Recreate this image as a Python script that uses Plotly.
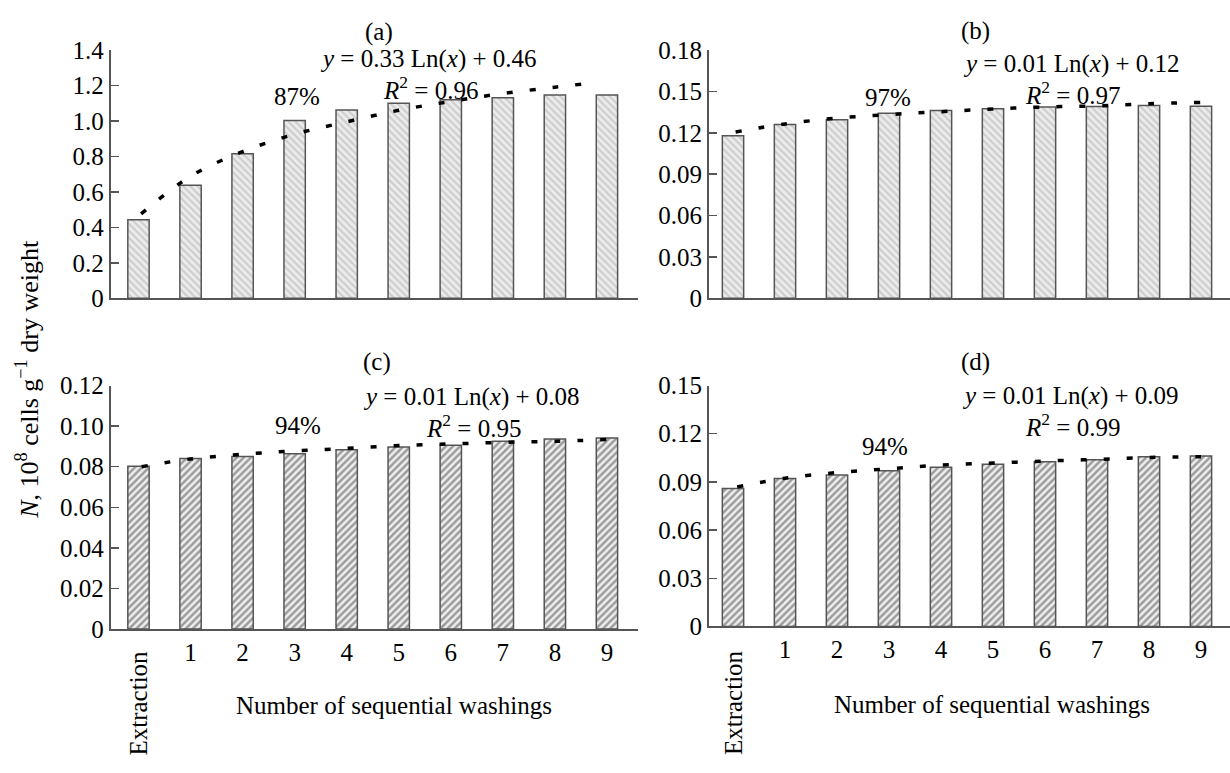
import plotly.graph_objects as go

W, H = 1230, 773

# ---------------- data ----------------
categories = ["Extraction", "1", "2", "3", "4", "5", "6", "7", "8", "9"]
cat_idx = list(range(len(categories)))

vals_a = [0.443, 0.637, 0.815, 1.003, 1.062, 1.099, 1.119, 1.13, 1.146, 1.146]
vals_b = [0.1178, 0.126, 0.1295, 0.1342, 0.1362, 0.1374, 0.1386, 0.1391, 0.1398, 0.1393]
vals_c = [0.0802, 0.084, 0.085, 0.0864, 0.0883, 0.0897, 0.0906, 0.0925, 0.0936, 0.0941]
vals_d = [0.0859, 0.0922, 0.0943, 0.097, 0.0991, 0.101, 0.1026, 0.1038, 0.1056, 0.1062]

# trend lines
trend_x_a = [0.05, 1, 2, 3, 4, 5, 6, 7, 8, 8.77]
trend_a = [0.476, 0.688, 0.827, 0.925, 0.995, 1.06, 1.11, 1.155, 1.19, 1.216]
trend_x_b = [0.05, 1, 2, 3, 4, 5, 6, 7, 8, 9]
trend_b = [0.1206, 0.1264, 0.1306, 0.1332, 0.1353, 0.1372, 0.1387, 0.1394, 0.141, 0.142]
trend_x_c = [0.06, 1, 2, 3, 4, 5, 6, 7, 8, 9.03]
trend_c = [0.0800, 0.0838, 0.0861, 0.0878, 0.089, 0.0904, 0.0912, 0.092, 0.0925, 0.0934]
trend_x_d = [0.08, 1, 2, 3, 4, 5, 6, 7, 8, 9]
trend_d = [0.0869, 0.0923, 0.0958, 0.0982, 0.1005, 0.1017, 0.103, 0.104, 0.1052, 0.1057]

yticks_a = [0, 0.2, 0.4, 0.6, 0.8, 1.0, 1.2, 1.4]
yticktext_a = ["0", "0.2", "0.4", "0.6", "0.8", "1.0", "1.2", "1.4"]
yticks_b = [0, 0.03, 0.06, 0.09, 0.12, 0.15, 0.18]
yticktext_b = ["0", "0.03", "0.06", "0.09", "0.12", "0.15", "0.18"]
yticks_c = [0, 0.02, 0.04, 0.06, 0.08, 0.10, 0.12]
yticktext_c = ["0", "0.02", "0.04", "0.06", "0.08", "0.10", "0.12"]
yticks_d = [0, 0.03, 0.06, 0.09, 0.12, 0.15]
yticktext_d = ["0", "0.03", "0.06", "0.09", "0.12", "0.15"]

panel_labels = ["(a)", "(b)", "(c)", "(d)"]
equations = ["<i>y</i> = 0.33 Ln(<i>x</i>) + 0.46", "<i>y</i> = 0.01 Ln(<i>x</i>) + 0.12",
             "<i>y</i> = 0.01 Ln(<i>x</i>) + 0.08", "<i>y</i> = 0.01 Ln(<i>x</i>) + 0.09"]
r2_texts = ["<i>R</i><sup>2</sup> = 0.96", "<i>R</i><sup>2</sup> = 0.97",
            "<i>R</i><sup>2</sup> = 0.95", "<i>R</i><sup>2</sup> = 0.99"]
pct_texts = ["87%", "97%", "94%", "94%"]
x_title = "Number of sequential washings"
y_title = "<i>N</i>, 10<sup>8</sup> cells g<sup>\u22121</sup> dry weight"

# ---------------- styling ----------------
FONT = "'Liberation Serif', 'Times New Roman', serif"
FS = 25
AX = "#555555"

light_pat = dict(shape="\\", fgcolor="#b0b0b0", bgcolor="#ececec", size=5, solidity=0.45)
dark_pat = dict(shape="/", fgcolor="#4a4a4a", bgcolor="#efefef", size=5, solidity=0.5)

def px(x):
    return x / W

def py(y):
    return 1 - y / H

fig = go.Figure()

panels = [
    dict(vals=vals_a, tx=trend_x_a, ty=trend_a, pat=light_pat, ax="", rng=[0, 1.4],
         tv=yticks_a, tt=yticktext_a),
    dict(vals=vals_b, tx=trend_x_b, ty=trend_b, pat=light_pat, ax="2", rng=[0, 0.18],
         tv=yticks_b, tt=yticktext_b),
    dict(vals=vals_c, tx=trend_x_c, ty=trend_c, pat=dark_pat, ax="3", rng=[0, 0.12],
         tv=yticks_c, tt=yticktext_c),
    dict(vals=vals_d, tx=trend_x_d, ty=trend_d, pat=dark_pat, ax="4", rng=[0, 0.15],
         tv=yticks_d, tt=yticktext_d),
]

for p in panels:
    fig.add_trace(go.Bar(
        x=cat_idx, y=p["vals"], width=0.41,
        marker=dict(color="#ececec", pattern=p["pat"], line=dict(color=AX, width=1.5)),
        xaxis="x" + p["ax"], yaxis="y" + p["ax"], showlegend=False, hoverinfo="y"))
    fig.add_trace(go.Scatter(
        x=p["tx"], y=p["ty"], mode="lines",
        line=dict(color="black", width=3.5, dash="6px,17px", shape="spline"),
        xaxis="x" + p["ax"], yaxis="y" + p["ax"], showlegend=False, hoverinfo="skip"))

xdom_left = [px(110.7), px(637.7)]
xdom_right = [px(709), 1.0]
xr_left = [-0.534, 9.591]
xr_right = [-0.4615, 9.558]
ydom_top = [py(295.7), py(38.3)]
ydom_c = [py(638.3), py(386)]
ydom_d = [py(635.7), py(386)]

def xaxis(dom, rng, anchor, labels):
    d = dict(domain=dom, range=rng, showline=True, linecolor=AX, linewidth=2,
             showgrid=False, zeroline=False, ticks="", fixedrange=True, anchor=anchor)
    if labels:
        d.update(tickmode="array", tickvals=cat_idx[1:], ticktext=categories[1:],
                 tickfont=dict(family=FONT, size=FS, color="black"))
    else:
        d.update(showticklabels=False)
    return d

def yaxis(dom, p, anchor):
    return dict(domain=dom, range=p["rng"], showline=True, linecolor=AX, linewidth=2,
                showgrid=False, zeroline=False, ticks="inside", ticklen=8, tickwidth=1.5,
                tickcolor=AX, tickmode="array", tickvals=p["tv"], ticktext=p["tt"],
                tickfont=dict(family=FONT, size=FS, color="black"), anchor=anchor,
                fixedrange=True)

fig.update_layout(
    width=W, height=H, margin=dict(l=0, r=0, t=0, b=0),
    paper_bgcolor="white", plot_bgcolor="white", bargap=0,
    font=dict(family=FONT, size=FS, color="black"),
    xaxis=xaxis(xdom_left, xr_left, "y", False),
    yaxis=yaxis(ydom_top, panels[0], "x"),
    xaxis2=xaxis(xdom_right, xr_right, "y2", False),
    yaxis2=yaxis(ydom_top, panels[1], "x2"),
    xaxis3=xaxis(xdom_left, xr_left, "y3", True),
    yaxis3=yaxis(ydom_c, panels[2], "x3"),
    xaxis4=xaxis(xdom_right, xr_right, "y4", True),
    yaxis4=yaxis(ydom_d, panels[3], "x4"),
)

ann = []
def add_text(text, x, y, angle=0, size=FS):
    ann.append(dict(text=text, x=px(x), y=py(y), xref="paper", yref="paper",
                    xanchor="center", yanchor="middle", showarrow=False, textangle=angle,
                    font=dict(family=FONT, size=size, color="black")))

label_pos = [(379, 20), (975, 19), (377, 362), (975, 362)]
eq_pos = [(428, 48), (1071, 53), (471, 398), (1070, 397)]
r2_pos = [(430, 78), (1072, 83), (473, 428), (1072, 427)]
pct_pos = [(297, 87), (888, 88), (297.5, 427), (885, 449)]
for i in range(4):
    add_text(panel_labels[i], *label_pos[i])
    add_text(equations[i], *eq_pos[i])
    add_text(r2_texts[i], *r2_pos[i])
    add_text(pct_texts[i], *pct_pos[i])

add_text(x_title, 394, 718)
add_text(x_title, 992, 717)
add_text(categories[0], 138.5, 715, -90)
add_text(categories[0], 733, 715, -90)
add_text(y_title, 28, 380, -90, 26)

fig.update_layout(annotations=ann)
fig.write_html(
    "out.html",
    config={"displayModeBar": False, "staticPlot": True},
    post_script="document.body.style.margin='0';document.body.style.padding='0';"
                "document.body.style.overflow='hidden';",
)
